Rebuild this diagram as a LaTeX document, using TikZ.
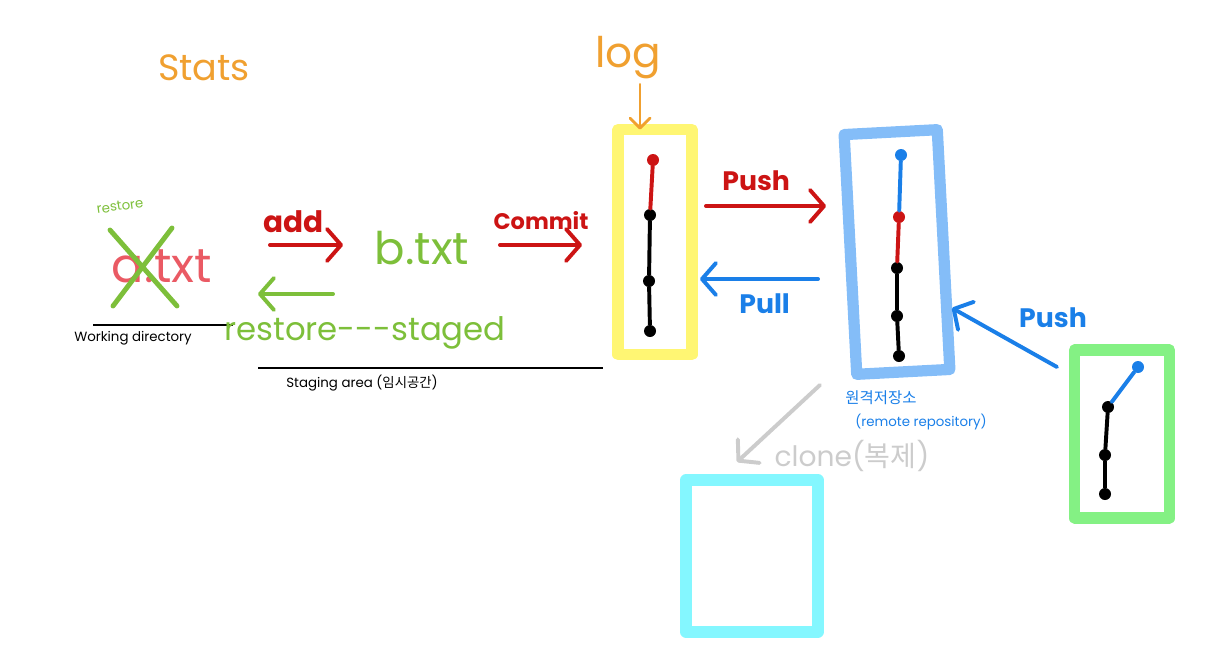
\documentclass[tikz,border=0pt]{standalone}
\usepackage{fontspec}
\setmainfont{Poppins}
\newfontfamily\kr{Noto Sans CJK KR}
\usetikzlibrary{arrows.meta,positioning,calc}
\definecolor{gitred}{HTML}{CC1414}
\definecolor{gitblue}{HTML}{1A7FE8}
\definecolor{gitgreen}{HTML}{7DBF3A}
\definecolor{gitorange}{HTML}{F0A030}
\definecolor{gitpink}{HTML}{EA5A64}
\definecolor{gitgray}{HTML}{CCCCCC}
\definecolor{boxyellow}{HTML}{FFF45A}
\definecolor{boxblue}{HTML}{6FB2F7}
\definecolor{boxgreen}{HTML}{6EEE6E}
\definecolor{boxcyan}{HTML}{6FF6FF}
\tikzset{
repo/.style={draw,line width=8pt,line join=round,draw opacity=.85,inner sep=0pt,outer sep=0pt},
commit/.style={circle,fill,inner sep=0pt,minimum size=.3cm},
hist/.style={line width=2.8pt,line cap=round},
flow/.style={-{Straight Barb[round,length=3.5mm,width=8mm]},line width=2.8pt,line cap=round},
big/.style={font=\fontsize{26}{28}\selectfont},
mid/.style={font=\fontsize{19}{21}\selectfont\bfseries},
small/.style={font=\fontsize{9.5}{11}\selectfont}
}
\begin{document}
\begin{tikzpicture}[x=0.025cm,y=-0.025cm]
\useasboundingbox (0,0) rectangle (1213,659);
% titles
\node[big,text=gitorange] (stats) at (204,68) {Stats};
\node[font=\fontsize{30}{32}\selectfont,text=gitorange] (log) at (628,58) {log};
% working directory
\node[font=\fontsize{34}{36}\selectfont,text=gitpink] (atxt) at (162,266) {a.txt};
\draw[gitgreen,line width=3.5pt,line cap=round] (110,230) -- (177,306) (172,228) -- (113,306);
\node[small,text=gitgreen,rotate=8] (rsmall) at (120,206) {restore};
\coordinate (wdl) at (93,325);
\coordinate (wdr) at (233,325);
\draw[line width=1pt] (wdl) -- (wdr);
\node[small] (wd) at (133,338) {Working directory};
% staging area
\node[font=\fontsize{32}{34}\selectfont,text=gitgreen] (btxt) at (422,248) {b.txt};
\node[font=\fontsize{23}{25}\selectfont,text=gitgreen] (rstaged) at (365,333) {restore-{}-{}-staged};
\coordinate (sal) at (258,368);
\coordinate (sar) at (603,368);
\draw[line width=1pt] (sal) -- (sar);
\node[small] (sa) at (362,383) {Staging area ({\kr 임시공간})};
\coordinate (addS) at (270,245);
\coordinate (addE) at (343,245);
\draw[flow,gitred] (addS) -- node[mid,above=4pt,xshift=-9pt,text=gitred,font=\fontsize{21}{23}\selectfont\bfseries]{add} (addE);
\coordinate (rsS) at (333,294);
\coordinate (rsE) at (258,294);
\draw[flow,gitgreen] (rsS) -- (rsE);
\coordinate (cmS) at (500,245);
\coordinate (cmE) at (582,245);
\draw[flow,gitred] (cmS) -- node[mid,above=6pt,text=gitred,font=\fontsize{16}{18}\selectfont\bfseries]{Commit} (cmE);
% local repository
\node[repo,draw=boxyellow,minimum width=1.85cm,minimum height=5.625cm] (local) at (655,242) {};
\draw[flow,gitorange,line width=2pt,-{Straight Barb[round,length=2.5mm,width=5mm]}] (log.south -| 640,0) -- (local.north -| 640,0);
\node[commit,gitred] (lr1) at (653,160) {};
\node[commit] (lk1) at (650,215) {};
\node[commit] (lk2) at (649,281) {};
\node[commit] (lk3) at (650,331) {};
\draw[hist,gitred] (lr1) -- (lk1);
\draw[hist] (lk1) -- (lk2) -- (lk3);
% remote repository
\node[repo,draw=boxblue,minimum width=2.33cm,minimum height=6cm,rotate=3] (remote) at (897,252) {};
\node[commit,gitblue] (rb1) at (901,155) {};
\node[commit,gitred] (rr1) at (899,217) {};
\node[commit] (rk1) at (897,268) {};
\node[commit] (rk2) at (897,316) {};
\node[commit] (rk3) at (899,356) {};
\draw[hist,gitblue] (rb1) -- (rr1);
\draw[hist,gitred] (rr1) -- (rk1);
\draw[hist] (rk1) -- (rk2) -- (rk3);
\node[text=gitblue,font=\fontsize{11}{12}\selectfont\kr] (rname) at (881,398) {원격저장소};
\node[small,text=gitblue] (rname2) at (921,422) {(remote repository)};
\coordinate (pushS) at (706,206);
\coordinate (pushE) at (826,206);
\draw[flow,gitred] (pushS) -- node[mid,above=6pt,xshift=-7pt,text=gitred]{Push} (pushE);
\coordinate (pullS) at (818,279);
\coordinate (pullE) at (700,279);
\draw[flow,gitblue] (pullS) -- node[mid,below=6pt,xshift=4pt,text=gitblue]{Pull} (pullE);
% other local
\node[repo,draw=boxgreen,minimum width=2.375cm,minimum height=4.2cm] (other) at (1122,434) {};
\node[commit,gitblue] (ob1) at (1138,367) {};
\node[commit] (ok1) at (1108,407) {};
\node[commit] (ok2) at (1105,455) {};
\node[commit] (ok3) at (1105,494) {};
\draw[hist,gitblue] (ob1) -- (ok1);
\draw[hist] (ok1) -- (ok2) -- (ok3);
\coordinate (opS) at (1057,367);
\coordinate (opE) at (952,308);
\draw[flow,gitblue] (opS) -- (opE);
\node[mid,text=gitblue] (opush) at (1053,318) {Push};
% clone
\node[repo,draw=boxcyan,minimum width=3.3cm,minimum height=3.8cm] (clone) at (752,556) {};
\coordinate (clS) at (820,385);
\coordinate (clE) at (737,462);
\draw[flow,gitgray] (clS) -- (clE);
\node[font=\fontsize{20}{22}\selectfont,text=gitgray] (clonel) at (852,456) {clone({\kr 복제})};
\end{tikzpicture}
\end{document}
